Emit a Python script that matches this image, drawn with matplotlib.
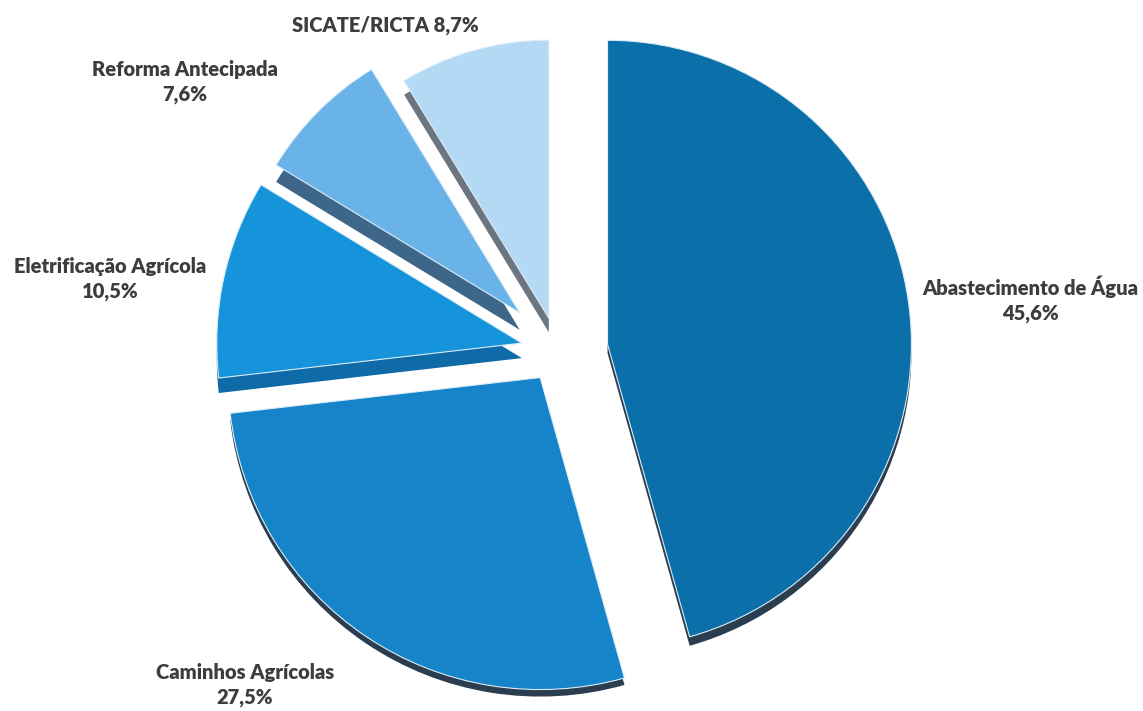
import matplotlib
matplotlib.use("Agg")
import matplotlib.pyplot as plt
from matplotlib.patches import Wedge

# Investment share by programme (%)
categories = ["Abastecimento de Água", "Caminhos Agrícolas", "Eletrificação Agrícola",
              "Reforma Antecipada", "SICATE/RICTA"]
shares = [45.6, 27.5, 10.5, 7.6, 8.7]

# Styling
face_colors = ["#0b6fa9", "#1684c9", "#1694db", "#6ab3e8", "#b3d9f5"]
side_colors = ["#2b3e4f", "#2b3e4f", "#0f6aa8", "#3e6688", "#6c7580"]
explode_px = [50, 32, 37, 54, 34]          # slice offsets, in pixels
radius_scale = [1.013, 1.04, 1.017, 0.95, 0.927]
depth = [9, 7, 15, 17, 14]
label_pos = [(1030, 412), (245, 26), (110, 432), (185, 629), (385, 686)]
one_line = [False, False, False, False, True]

W, H = 1143, 711
fig = plt.figure(figsize=(W / 100, H / 100), dpi=100)
ax = fig.add_axes([0, 0, 1, 1])

R0 = 300
wedges, _ = ax.pie(shares, explode=explode_px, startangle=90, counterclock=False,
                   colors=face_colors, radius=R0, center=(558, 360),
                   normalize=True, frame=True)
ax.set_xlim(0, W)
ax.set_ylim(0, H)
ax.set_aspect("equal")
ax.axis("off")

for w, rs, d, sc in zip(wedges, radius_scale, depth, side_colors):
    w.set_radius(R0 * rs)
    w.set_edgecolor("#dcecf7")
    w.set_linewidth(0.8)
    w.set_zorder(3)
    cx, cy = w.center
    side = Wedge((cx, cy - d), R0 * rs, w.theta1, w.theta2,
                 facecolor=sc, edgecolor="none", zorder=2)
    ax.add_patch(side)

for name, v, (x, y), single in zip(categories, shares, label_pos, one_line):
    pct = f"{v:.1f}".replace(".", ",") + "%"
    txt = f"{name} {pct}" if single else f"{name}\n{pct}"
    ax.text(x, y, txt, ha="center", va="center", fontsize=14.5,
            fontweight="heavy", color="#3d3d3d", family="Lato",
            linespacing=1.35, zorder=5)

fig.savefig("out.png", dpi=100)
